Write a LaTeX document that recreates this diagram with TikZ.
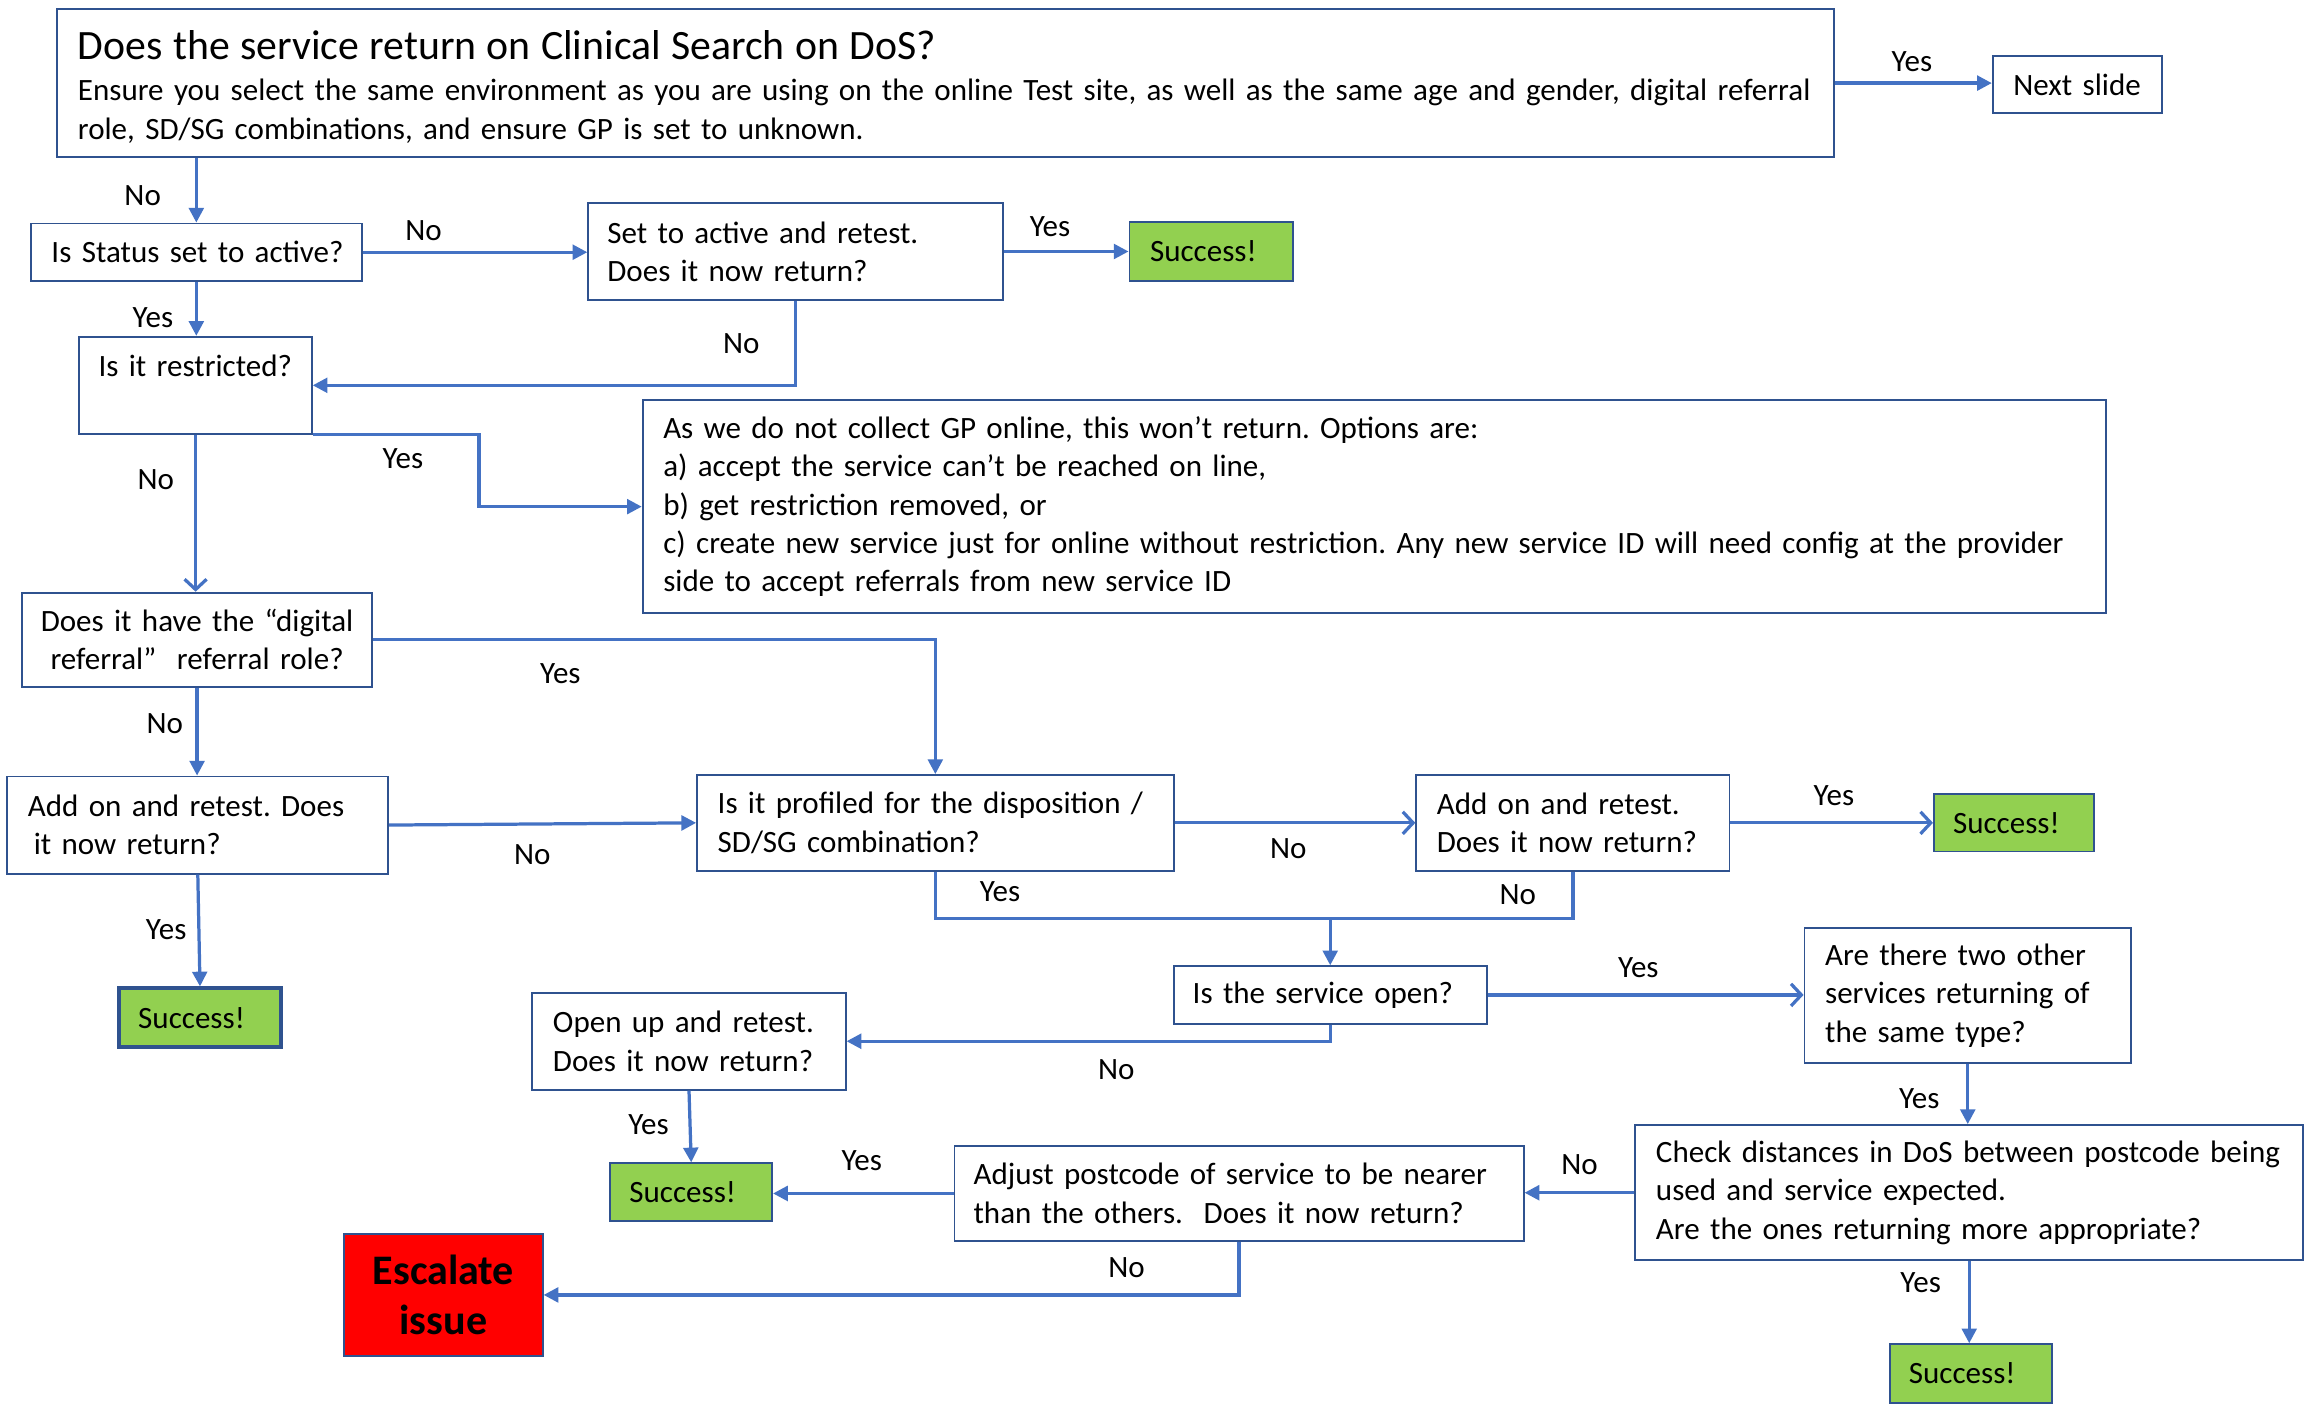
\documentclass[tikz,border=0pt]{standalone}
\usepackage{fontspec}
\setmainfont{Carlito}
\usetikzlibrary{arrows.meta,calc}
\definecolor{boxc}{HTML}{2F528F}
\definecolor{linec}{HTML}{4472C4}
\definecolor{okgreen}{HTML}{92D050}
\definecolor{escred}{HTML}{FF0000}
\newcommand{\bodyfont}{\fontsize{21.1}{26}\selectfont\fontdimen2\font=4.1pt\relax}
\newcommand{\titlefont}{\fontsize{28.4}{31}\selectfont}
\newcommand{\escfont}{\fontsize{28.6}{34}\selectfont\bfseries}
\newcommand{\ml}[1]{\mbox{#1}}
\frenchspacing
\hbadness=10000
\hfuzz=1000pt
\begin{document}
\begin{tikzpicture}[x=1pt,y=-1pt,
  box/.style={draw=boxc, line width=1.3pt, fill=white, inner xsep=14pt, inner ysep=0pt, align=left, font=\bodyfont, text=black},
  cbox/.style={box, align=center},
  okbox/.style={box, fill=okgreen},
  lbl/.style={font=\bodyfont, inner sep=0pt},
  conn/.style={draw=linec, line width=2.2pt, -{Triangle[length=10pt,width=10pt]}},
  oconn/.style={draw=linec, line width=2.2pt, -{Straight Barb[length=7pt,width=15pt]}},
  plainc/.style={draw=linec, line width=2.2pt},
]
\useasboundingbox[fill=white] (0,0) rectangle (1568,955);

% boxes
\node[box, minimum height=101pt, text width=1180pt] (main) at (643,56.5)
 {\ml{\titlefont\rule{0pt}{25pt}Does the service return on Clinical Search on DoS?}\\[2pt]
  \ml{Ensure you select the same environment as you are using on the online Test site, as well as the same age and gender, digital referral}\\
  \ml{role, SD/SG combinations, and ensure GP is set to unknown.}};
\node[box, minimum height=39pt, text width=87pt] (next) at (1412.5,57.5) {\ml{Next slide}};
\node[cbox, minimum height=39pt, text width=197pt] (status) at (133.5,171.5) {\ml{Is Status set to active?}};
\node[box, inner xsep=13pt, minimum height=66pt, text width=256pt] (setact) at (541,171) {\ml{Set to active and retest.}\\\ml{Does it now return?}};
\node[okbox, minimum height=40pt, text width=83pt] (succ1) at (823.5,171) {\ml{Success!}};
\node[box, inner xsep=13pt, minimum height=66pt, text width=132pt] (restr) at (133,262) {\ml{Is it restricted?}\\\mbox{}};
\node[box, minimum height=145pt, text width=967pt] (gp) at (934.5,344.5)
 {\ml{As we do not collect GP online, this won’t return. Options are:}\\
  \ml{a) accept the service can’t be reached on line,}\\
  \ml{b) get restriction removed, or}\\
  \ml{c) create new service just for online without restriction. Any new service ID will need config at the provider}\\
  \ml{side to accept referrals from new service ID}};
\node[cbox, inner xsep=8pt, minimum height=64pt, text width=222pt] (digital) at (134,435) {\ml{Does it have the “digital}\\\ml{referral”~ referral role?}};
\node[box, minimum height=66pt, text width=231pt] (addL) at (134.5,561) {\ml{Add on and retest. Does}\\\ml{\hspace{4pt}it now return?}};
\node[okbox, line width=2.6pt, inner xsep=13pt, minimum height=40pt, text width=84pt] (succ2) at (136,692) {\ml{Success!}};
\node[box, minimum height=65pt, text width=296pt] (prof) at (636,559.5) {\ml{Is it profiled for the disposition /}\\\ml{SD/SG combination?}};
\node[box, minimum height=65pt, text width=185pt] (addR) at (1069.5,559.5) {\ml{Add on and retest.}\\\ml{Does it now return?}};
\node[okbox, inner xsep=13pt, minimum height=39pt, text width=83pt] (succ3) at (1369.5,559.5) {\ml{Success!}};
\node[box, inner xsep=13pt, minimum height=39pt, text width=187pt] (open) at (904.5,676.5) {\ml{Is the service open?}};
\node[box, minimum height=66pt, text width=185pt] (openup) at (468.5,708) {\ml{Open up and retest.}\\\ml{Does it now return?}};
\node[okbox, inner xsep=13pt, minimum height=39pt, text width=84pt] (succ4) at (470,810.5) {\ml{Success!}};
\node[box, minimum height=92pt, text width=194pt] (two) at (1338,677) {\ml{Are there two other}\\\ml{services returning of}\\\ml{the same type?}};
\node[box, minimum height=92pt, text width=426pt] (check) at (1339,811) {\ml{Check distances in DoS between postcode being}\\\ml{used and service expected.}\\\ml{Are the ones returning more appropriate?}};
\node[okbox, inner xsep=13pt, minimum height=40pt, text width=84pt] (succ5) at (1340,934) {\ml{Success!}};
\node[box, inner xsep=13pt, minimum height=65pt, text width=361pt] (adjust) at (842.5,811.5) {\ml{Adjust postcode of service to be nearer}\\\ml{than the others.~ Does it now return?}};
\node[box, fill=escred, align=center, inner xsep=8pt, minimum height=83pt, text width=119pt, font=\escfont] (esc) at (301.5,880.5) {\ml{Escalate}\\\ml{issue}};

% connectors
\draw[conn] (main.east) -- (main.east -| next.west);
\draw[conn] (status.north |- main.south) -- (status.north);
\draw[conn] (status.east) -- (status.east -| setact.west);
\draw[conn] (setact.east) -- (setact.east -| succ1.west);
\draw[conn] (status.south) -- (status.south |- restr.north);
\draw[conn] (setact.south) |- (restr.east);
\draw[conn] (restr.south east) -- ++(113,0) |- (gp.west);
\draw[oconn] (restr.south) -- (restr.south |- digital.north);
\draw[conn] (digital.south) -- (digital.south |- addL.north);
\draw[conn] (addL.south) -- (succ2.north);
\draw[conn] (digital.east) -| (prof.north);
\draw[conn] (addL.east) -- (prof.west);
\draw[oconn] (prof.east) -- (addR.west);
\draw[oconn] (addR.east) -- (addR.east -| succ3.west);
\coordinate (mj) at ([yshift=32pt]open.north);
\draw[plainc] (prof.south) |- (mj) -| (addR.south);
\draw[conn] (mj) -- (open.north);
\draw[oconn] (open.east) -- (open.east -| two.west);
\draw[conn] (open.south) |- (openup.east);
\draw[conn] (openup.south) -- (succ4.north);
\draw[conn] (two.south) -- (two.south |- check.north);
\draw[conn] (check.west) -- (check.west -| adjust.east);
\draw[conn] (adjust.west) -- (adjust.west -| succ4.east);
\draw[conn] (adjust.south) |- (esc.east);
\draw[conn] (check.south) -- (check.south |- succ5.north);

% labels
\node[lbl] (l1) at (1300,42) {Yes};
\node[lbl] (l2) at (97,133) {No};
\node[lbl] (l3) at (288,157) {No};
\node[lbl] (l4) at (714,154) {Yes};
\node[lbl] (l5) at (104,216) {Yes};
\node[lbl] (l6) at (504,234) {No};
\node[lbl] (l7) at (274,312) {Yes};
\node[lbl] (l8) at (106,326) {No};
\node[lbl] (l9) at (112,492) {No};
\node[lbl] (l10) at (113,632) {Yes};
\node[lbl] (l11) at (381,458) {Yes};
\node[lbl] (l12) at (362,581) {No};
\node[lbl] (l13) at (876,577) {No};
\node[lbl] (l14) at (1247,541) {Yes};
\node[lbl] (l15) at (680,606) {Yes};
\node[lbl] (l16) at (1032,608) {No};
\node[lbl] (l17) at (1114,658) {Yes};
\node[lbl] (l18) at (759,727) {No};
\node[lbl] (l19) at (441,765) {Yes};
\node[lbl] (l20) at (1305,747) {Yes};
\node[lbl] (l21) at (1074,792) {No};
\node[lbl] (l22) at (1306,872) {Yes};
\node[lbl] (l23) at (586,789) {Yes};
\node[lbl] (l24) at (766,862) {No};
\end{tikzpicture}
\end{document}
